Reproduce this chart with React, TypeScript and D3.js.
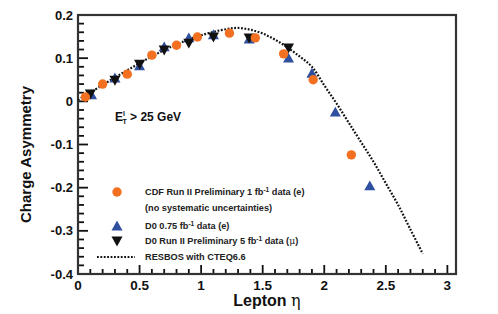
import React from 'react';
import * as d3 from 'd3';

// CDF Run II Preliminary 1 fb-1 (e)
const cdfEta = [0.06, 0.2, 0.4, 0.6, 0.8, 0.97, 1.23, 1.44, 1.67, 1.91, 2.22];
const cdfAsym = [0.01, 0.04, 0.063, 0.107, 0.13, 0.149, 0.158, 0.147, 0.11, 0.05, -0.124];

// D0 0.75 fb-1 (e)
const d0eEta = [0.11, 0.3, 0.5, 0.7, 0.9, 1.1, 1.39, 1.71, 1.9, 2.09, 2.37];
const d0eAsym = [0.015, 0.054, 0.082, 0.126, 0.147, 0.154, 0.144, 0.1, 0.065, -0.025, -0.196];

// D0 Run II Preliminary 5 fb-1 (mu)
const d0muEta = [0.1, 0.3, 0.5, 0.7, 0.9, 1.1, 1.39, 1.71];
const d0muAsym = [0.017, 0.049, 0.086, 0.119, 0.135, 0.149, 0.147, 0.124];

// RESBOS with CTEQ6.6
const resbosEta = [0, 0.2, 0.4, 0.6, 0.8, 1.0, 1.2, 1.3, 1.4, 1.5, 1.6, 1.7, 1.8, 1.9, 2.0, 2.1, 2.2, 2.3, 2.4, 2.5, 2.6, 2.7, 2.8];
const resbosAsym = [0.003, 0.038, 0.072, 0.104, 0.132, 0.153, 0.167, 0.17, 0.166, 0.157, 0.143, 0.125, 0.104, 0.08, 0.037, -0.005, -0.05, -0.095, -0.14, -0.19, -0.24, -0.297, -0.353];

const xTicks = [0, 0.5, 1, 1.5, 2, 2.5, 3];
const yTicks = [0.2, 0.1, 0, -0.1, -0.2, -0.3, -0.4];

const ORANGE = '#f37021';
const BLUE = '#2f4f9f';
const DARK = '#111';
const FONT = '"Liberation Sans", Arial, Helvetica, sans-serif';

const left = 78;
const right = 456;
const top = 15;
const bottom = 274;

export default function App() {
  const x = d3.scaleLinear().domain([0, 3.07]).range([left, right]);
  const y = d3.scaleLinear().domain([-0.4, 0.2]).range([bottom, top]);

  const minorX = d3.range(0, 30.5, 1).map((v) => v / 10).filter((v) => x(v) < right);
  const minorY = d3.range(-20, 10.5, 1).map((v) => v / 50);

  const curve = d3
    .line<number>()
    .x((d, i) => x(resbosEta[i]))
    .y((d) => y(d))
    .curve(d3.curveCatmullRom);

  const tri = (cx: number, cy: number, up: boolean, s = 5.5) =>
    up
      ? `M${cx},${cy - s} L${cx + s},${cy + s * 0.8} L${cx - s},${cy + s * 0.8} Z`
      : `M${cx},${cy + s} L${cx + s},${cy - s * 0.8} L${cx - s},${cy - s * 0.8} Z`;

  const legX = 117;
  const legText = 145;

  return (
    <svg
      width={498}
      height={314}
      style={{ position: 'absolute', left: 0, top: 0, background: '#fff' }}
      fontFamily={FONT}
    >
      {/* ticks */}
      {minorX.map((v) => {
        const major = Math.abs(v * 2 - Math.round(v * 2)) < 1e-6;
        return (
          <line key={'xt' + v} x1={x(v)} x2={x(v)} y1={bottom} y2={bottom - (major ? 9 : 5)} stroke={DARK} strokeWidth={1.8} />
        );
      })}
      {minorY.map((v) => {
        const major = Math.abs(v * 10 - Math.round(v * 10)) < 1e-6;
        return (
          <line key={'yt' + v} x1={left} x2={left + (major ? 10 : 6)} y1={y(v)} y2={y(v)} stroke={DARK} strokeWidth={1.8} />
        );
      })}

      {/* frame */}
      <rect x={left} y={top} width={right - left} height={bottom - top} fill="none" stroke="#333" strokeWidth={2.2} />

      {/* tick labels */}
      {xTicks.map((v) => (
        <text key={'xl' + v} x={x(v)} y={bottom + 16} textAnchor="middle" fontSize={13.5} fontWeight="bold" fill={DARK}>
          {v}
        </text>
      ))}
      {yTicks.map((v) => (
        <text key={'yl' + v} x={left - 5} y={y(v) + 4.5} textAnchor="end" fontSize={13} fontWeight="bold" fill={DARK}>
          {v}
        </text>
      ))}

      {/* axis titles */}
      <text
        transform={`translate(31,${(top + bottom) / 2 + 10}) rotate(-90)`}
        textAnchor="middle"
        fontSize={15}
        fontWeight="bold"
        fill={DARK}
      >
        Charge Asymmetry
      </text>
      <text x={267} y={306} textAnchor="middle" fontSize={16} fontWeight="bold" fill={DARK}>
        Lepton <tspan fontWeight="normal" fontFamily="'DejaVu Serif', serif">η</tspan>
      </text>

      {/* annotation */}
      <text x={115} y={121} fontSize={12} fontWeight="bold" fill={DARK}>
        E
        <tspan fontSize={7} dy={-5}>l</tspan>
        <tspan fontSize={7} dx={-2.5} dy={8}>T</tspan>
        <tspan dy={-3}> &gt; 25 GeV</tspan>
      </text>

      {/* theory curve */}
      <path d={curve(resbosAsym) || ''} fill="none" stroke={DARK} strokeWidth={2.2} strokeDasharray="1.8 1.6" />

      {/* data */}
      {d0eEta.map((v, i) => (
        <path key={'b' + i} d={tri(x(v), y(d0eAsym[i]), true)} fill={BLUE} />
      ))}
      {d0muEta.map((v, i) => (
        <path key={'k' + i} d={tri(x(v), y(d0muAsym[i]), false)} fill={DARK} />
      ))}
      {cdfEta.map((v, i) => (
        <circle key={'c' + i} cx={x(v)} cy={y(cdfAsym[i])} r={4.7} fill={ORANGE} />
      ))}

      {/* legend */}
      <g fontSize={9.2} fontWeight="bold" fill="#222">
        <circle cx={legX} cy={192} r={4.7} fill={ORANGE} />
        <text x={legText} y={195}>
          CDF Run II Preliminary 1 fb<tspan fontSize={6.5} dy={-3.5}>-1</tspan>
          <tspan dy={3.5}> data (e)</tspan>
        </text>
        <text x={legText} y={211}>(no systematic uncertainties)</text>

        <path d={tri(legX, 226, true)} fill={BLUE} />
        <text x={legText} y={229}>
          D0 0.75 fb<tspan fontSize={6.5} dy={-3.5}>-1</tspan>
          <tspan dy={3.5}> data (e)</tspan>
        </text>

        <path d={tri(legX, 241, false)} fill={DARK} />
        <text x={legText} y={244}>
          D0 Run II Preliminary 5 fb<tspan fontSize={6.5} dy={-3.5}>-1</tspan>
          <tspan dy={3.5}> data (</tspan>
          <tspan fontWeight="normal" fontFamily="'DejaVu Serif', serif">μ</tspan>
          <tspan>)</tspan>
        </text>

        <line x1={97} x2={135} y1={257} y2={257} stroke={DARK} strokeWidth={2} strokeDasharray="1.8 1.6" />
        <text x={legText} y={260}>RESBOS with CTEQ6.6</text>
      </g>
    </svg>
  );
}
